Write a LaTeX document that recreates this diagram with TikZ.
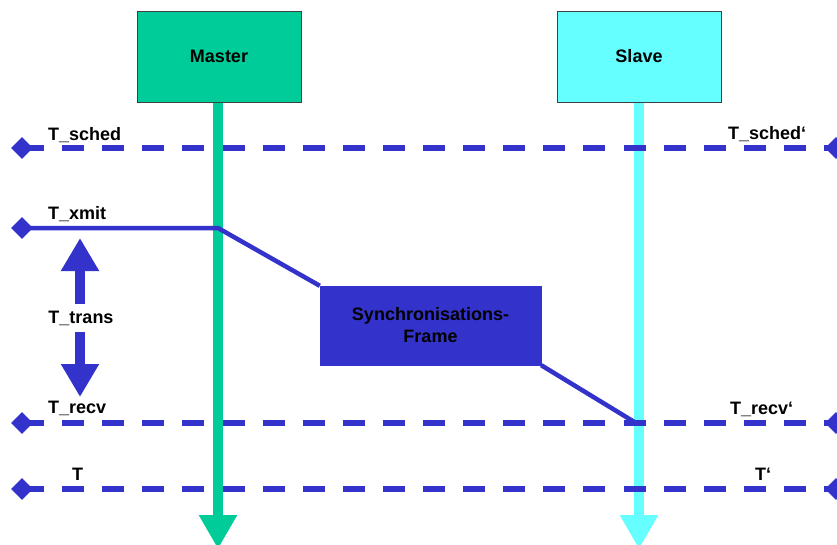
\documentclass[tikz,border=0pt]{standalone}
\usepackage{fontspec}
\setmainfont{Liberation Sans}
\usetikzlibrary{arrows.meta,shapes.geometric}
\definecolor{lineblue}{HTML}{3333CC}
\definecolor{mastergreen}{HTML}{00CC99}
\definecolor{slavecyan}{HTML}{66FFFF}

\begin{document}
\begin{tikzpicture}[x=1pt,y=-1pt,
  txt/.style={font=\fontsize{18}{22}\selectfont\bfseries},
  lbl/.style={txt, inner sep=0pt, anchor=base west},
  party/.style={txt, draw=black!75, line width=1pt, minimum width=164pt,
    minimum height=91pt, inner sep=0pt},
  lifeline/.style={line width=9.5pt, -{Triangle[length=34pt,width=36pt]}},
  tick/.style={diamond, fill=lineblue, minimum size=22pt, inner sep=0pt},
  timeline/.style={lineblue, line width=5.5pt, dash pattern=on 22pt off 18.1pt},
  frameline/.style={lineblue, line width=4.5pt, line join=round},
  span/.style={lineblue, line width=10pt, -{Triangle[length=33pt,width=36pt]}},
]
\useasboundingbox (0,0) rectangle (837,544);
\clip (0,0) rectangle (837,544);
\fill[white] (0,0) rectangle (837,544);

% participants and their lifelines
\node[party, fill=mastergreen] (master) at (219,56.5) {Master};
\node[party, fill=slavecyan] (slave) at (639,56.5) {Slave};
\coordinate (mend) at (218,549);
\coordinate (send) at (639,549);
\draw[lifeline, mastergreen] (mend |- master.south) -- (mend);
\draw[lifeline, slavecyan] (send |- slave.south) -- (send);

% time markers
\node[tick] (schedL) at (22,148) {};
\node[tick] (schedR) at (836,148) {};
\node[tick] (xmitL) at (22,228) {};
\node[tick] (recvL) at (22,423) {};
\node[tick] (recvR) at (836,423) {};
\node[tick] (tL) at (22,489) {};
\node[tick] (tR) at (836,489) {};

\draw[timeline] (schedL.center) -- (schedR.center);
\draw[timeline] (recvL.center) -- (recvR.center);
\draw[timeline] (tL.center) -- (tR.center);

% synchronisation frame path
\coordinate (xmit) at (218,228);
\coordinate (recv) at (636,423);
\node[txt, fill=lineblue, draw=lineblue, minimum width=221pt,
  minimum height=79pt, inner sep=0pt, align=center] (sync) at (430.5,325.5)
  {Synchronisations-\\Frame};
\draw[frameline] (xmitL.center) -- (xmit) -- (sync.north west);
\draw[frameline] (sync.south east) -- (recv);

% labels
\node[lbl] (lsched) at (48,140) {T\_sched};
\node[lbl] (lxmit) at (48,219) {T\_xmit};
\node[lbl] (lrecv) at (48,413) {T\_recv};
\node[lbl] (lt) at (72,480) {T};
\node[lbl] (rsched) at (728,139) {T\_sched‘};
\node[lbl] (rrecv) at (730,414) {T\_recv‘};
\node[lbl] (rt) at (755,480) {T‘};

% transmission delay
\node[txt, inner xsep=0pt, inner ysep=6.5pt, anchor=base] (ttrans) at (81,323) {T\_trans};
\coordinate (transtop) at (80,238);
\coordinate (transbot) at (80,397);
\draw[span] (transtop |- ttrans.north) -- (transtop);
\draw[span] (transbot |- ttrans.south) -- (transbot);
\end{tikzpicture}
\end{document}
